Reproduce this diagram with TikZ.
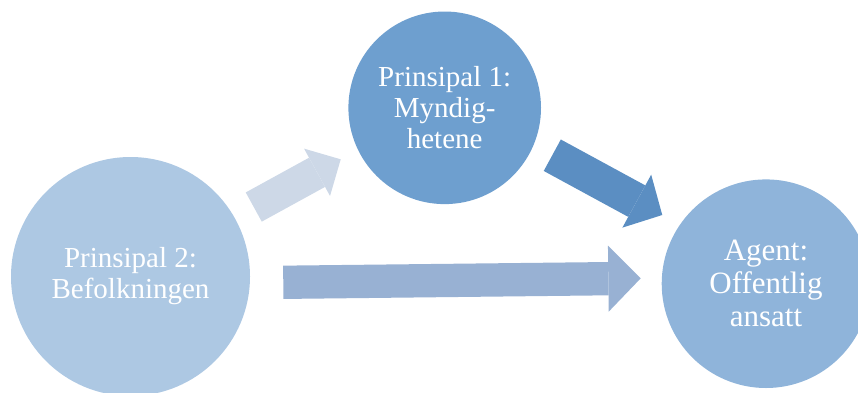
\documentclass[tikz,border=0pt]{standalone}
\usepackage{fontspec}
\setmainfont{Liberation Serif}
\usetikzlibrary{shapes,arrows.meta}
\definecolor{folkblue}{RGB}{173,200,227}
\definecolor{myndblue}{RGB}{110,159,207}
\definecolor{agentblue}{RGB}{143,180,218}
\definecolor{palelink}{RGB}{205,216,231}
\definecolor{darklink}{RGB}{91,142,194}
\definecolor{midlink}{RGB}{152,177,211}
\tikzset{party/.style={circle, fill=#1, draw=none, text=white, inner sep=0pt, align=center,
 font=\fontsize{29pt}{31pt}\selectfont}}
\tikzset{blockline/.style n args={4}{draw=#1, line width=#2, line cap=butt,
 -{Triangle[length=#3, width=#4, line width=0pt]}}}

\begin{document}
\begin{tikzpicture}[x=1pt, y=-1pt]
        \useasboundingbox (0,0) rectangle (858,392);
        \clip (0,0) rectangle (858,392);
        \node[party=folkblue, minimum size=239pt]   (befolk) at (130.5,276.5) {Prinsipal 2:\\Befolkningen};
        \node[party=myndblue, minimum size=192.6pt] (myndig) at (444.7,107.8) {Prinsipal 1:\\Myndig-\\hetene};
        \node[party=agentblue, minimum size=208.6pt, font=\fontsize{31pt}{33pt}\selectfont] (agent) at (766,283.7) {Agent:\\Offentlig\\ansatt};

        \path[blockline={palelink}{33.3pt}{27pt}{54pt}, shorten <=141.5pt, shorten >=116pt]
             ([shift={(-0.8,-1.4)}]befolk.center) -- ([shift={(-2.3,-4.3)}]myndig.center);
        \path[blockline={darklink}{35.8pt}{29pt}{60.3pt}, shorten <=117.1pt, shorten >=124pt]
             ([shift={(4.7,-8.5)}]myndig.center) -- ([shift={(5.2,-9.5)}]agent.center);
        \path[blockline={midlink}{33.3pt}{32.4pt}{66pt}, shorten <=152.7pt, shorten >=125.3pt]
             ([shift={(0.1,7.5)}]befolk.center) -- ([shift={(0,-6.8)}]agent.center);
     \end{tikzpicture}
\end{document}
